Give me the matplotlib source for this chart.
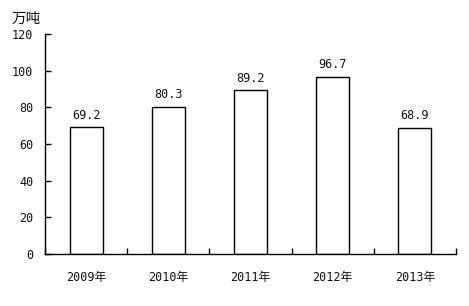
import matplotlib
matplotlib.use("Agg")
import matplotlib.pyplot as plt
import numpy as np

FAM = ['DejaVu Sans Mono', 'Noto Sans CJK SC']
plt.rcParams['font.family'] = FAM

years = ["2009年", "2010年", "2011年", "2012年", "2013年"]
values = [69.2, 80.3, 89.2, 96.7, 68.9]
yticks = [0, 20, 40, 60, 80, 100, 120]

fig = plt.figure(figsize=(4.69, 3.06), dpi=100)
ax = fig.add_axes([0.096, 0.170, 0.876, 0.719])
x = np.arange(len(years))
ax.bar(x, values, width=0.4, color="white", edgecolor="black", linewidth=1.0)
for xi, v in zip(x, values):
    ax.annotate(f"{v:.1f}", (xi, v), xytext=(0, 4), textcoords="offset points",
                ha="center", va="bottom", fontsize=8.5, color="#111111")

ax.set_xlim(-0.5, len(years) - 0.5)
ax.set_ylim(0, 120)
ax.set_yticks(yticks)
ax.set_yticklabels([str(t) for t in yticks], fontsize=8.5, color="#111111")
ax.tick_params(axis='y', direction='in', length=4, width=1, pad=8.5)

ax.set_xticks(x)
ax.set_xticklabels(years, fontsize=8.5, color="#111111")
ax.tick_params(axis='x', which='major', length=0, pad=12)
ax.set_xticks(np.arange(-0.5, len(years) + 0.5, 1.0), minor=True)
ax.tick_params(axis='x', which='minor', direction='in', length=4, width=1)

for s in ["top", "right"]:
    ax.spines[s].set_visible(False)
for s in ["left", "bottom"]:
    ax.spines[s].set_linewidth(1.0)

fig.text(12 / 469, 1 - 19 / 306, "万吨", fontsize=10.5, va="center", ha="left",
         family=['Noto Sans CJK SC', 'DejaVu Sans'], color="#111111")

fig.savefig("out.png", dpi=100)
